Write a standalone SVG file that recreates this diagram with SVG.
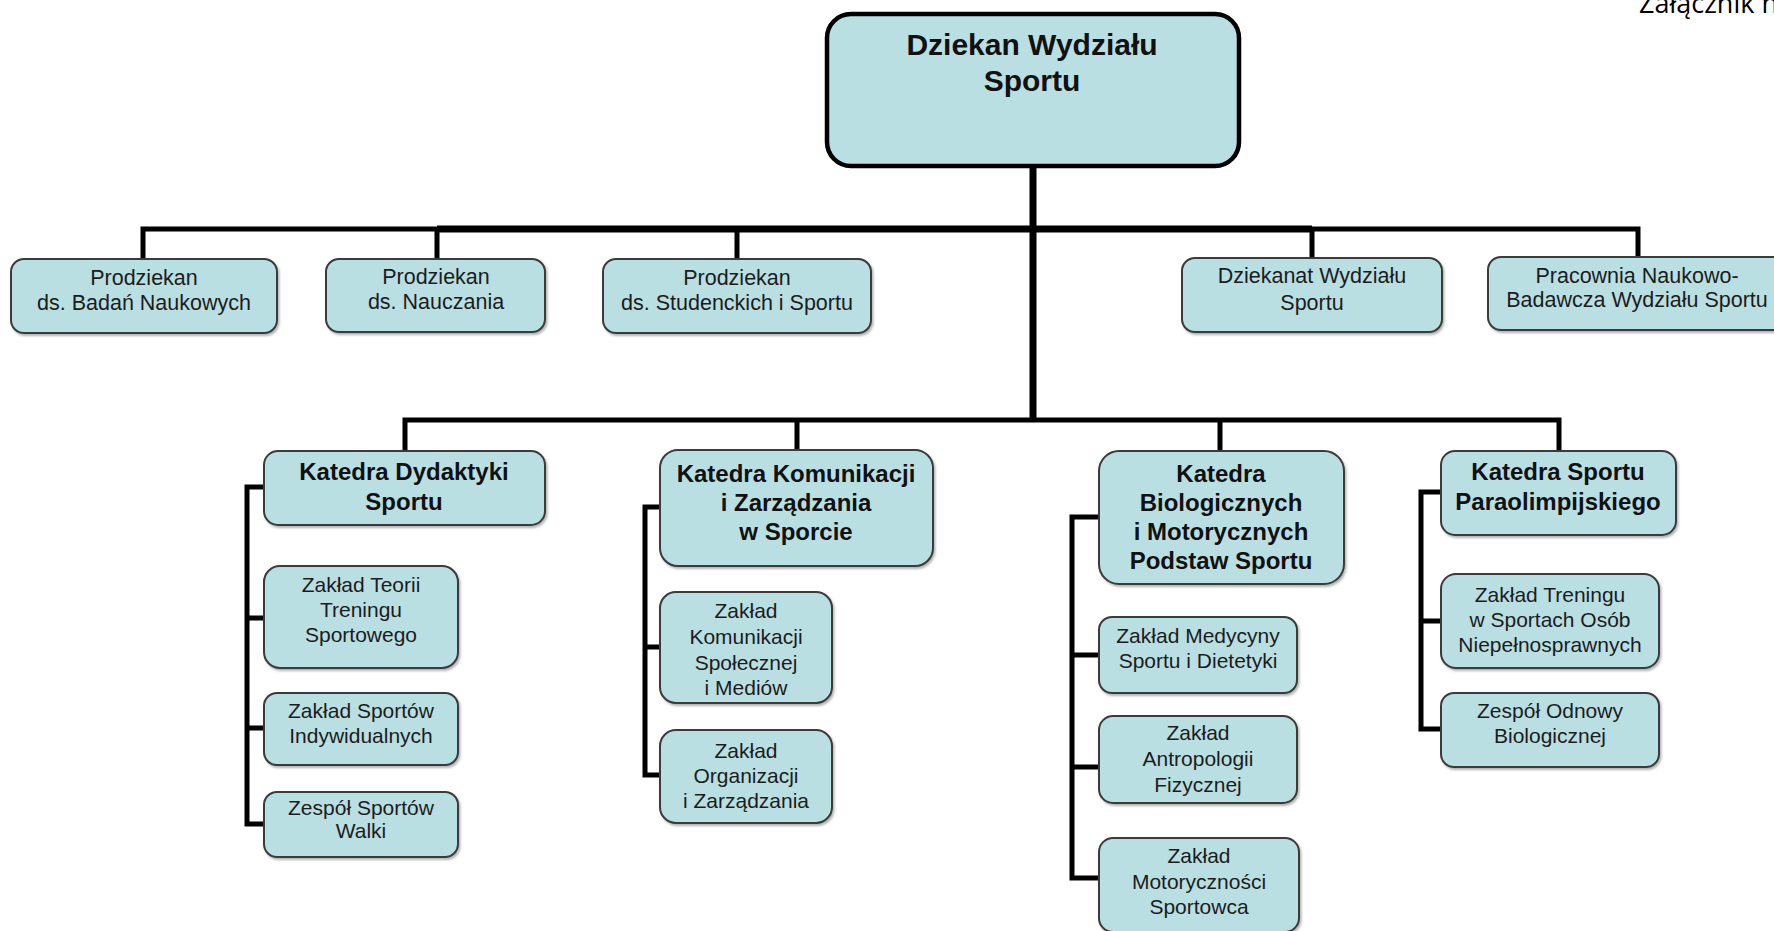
<svg xmlns="http://www.w3.org/2000/svg" width="1774" height="931" viewBox="0 0 1774 931">
<defs>
<filter id="sh" x="-5%" y="-5%" width="110%" height="120%"><feDropShadow dx="1.5" dy="2" stdDeviation="0.8" flood-color="#666" flood-opacity="0.5"/></filter>
</defs>
<style>
.box{fill:#b9dfe3;stroke:#3a3a3a;stroke-width:2;filter:url(#sh)}
.top{fill:#b9dfe3;stroke:#000;stroke-width:4.5}
.t{font-family:"Liberation Sans",Arial,sans-serif;font-size:21px;fill:#1c1c1c;text-anchor:middle}
.t1{font-family:"Liberation Sans",Arial,sans-serif;font-size:21.5px;fill:#1c1c1c;text-anchor:middle}
.b{font-family:"Liberation Sans",Arial,sans-serif;font-size:24px;font-weight:bold;fill:#111;text-anchor:middle}
.bt{font-family:"Liberation Sans",Arial,sans-serif;font-size:30px;font-weight:bold;fill:#111;text-anchor:middle}
.ln{fill:none;stroke:#000;stroke-width:5;stroke-linecap:butt;stroke-linejoin:miter}
.lnk{fill:none;stroke:#000;stroke-width:7}
</style>
<rect width="1774" height="931" fill="#fff"/>
<text x="1639" y="13" style="font-family:'Open Sans',sans-serif;font-size:27px;fill:#000">Załącznik n</text>

<g id="connectors">
<path class="lnk" d="M1033 167V420"/>
<path class="lnk" d="M437 229H1312"/>
<path class="ln" d="M143 259V229H437M1312 229H1638V257"/>
<path class="ln" d="M437 229V259M737 229V259M1312 229V258"/>
<path class="ln" d="M405 451V420H1559V451M797 420V450M1220 420V451"/>
<path class="ln" d="M264 487H247V824H264M247 618H264M247 728H264"/>
<path class="ln" d="M660 507H645V775H660M645 647H660"/>
<path class="ln" d="M1099 517H1072V878H1099M1072 655H1099M1072 767H1099"/>
<path class="ln" d="M1441 492H1421V729H1441M1421 621H1441"/>
</g>

<g id="dziekan">
<rect class="top" x="827" y="14" width="412" height="152" rx="24"/>
<text class="bt" x="1032" y="55">Dziekan Wydziału</text>
<text class="bt" x="1032" y="91">Sportu</text>
</g>

<g id="prodziekan-badan">
<rect class="box" x="11" y="259" width="266" height="74" rx="13"/>
<text class="t1" x="144" y="285">Prodziekan</text>
<text class="t1" x="144" y="310">ds. Badań Naukowych</text>
</g>
<g id="prodziekan-nauczania">
<rect class="box" x="326" y="259" width="219" height="73" rx="13"/>
<text class="t1" x="436" y="284">Prodziekan</text>
<text class="t1" x="436" y="309">ds. Nauczania</text>
</g>
<g id="prodziekan-studenckich">
<rect class="box" x="603" y="259" width="268" height="74" rx="13"/>
<text class="t1" x="737" y="285">Prodziekan</text>
<text class="t1" x="737" y="310">ds. Studenckich i Sportu</text>
</g>
<g id="dziekanat">
<rect class="box" x="1182" y="258" width="260" height="74" rx="13"/>
<text class="t1" x="1312" y="283">Dziekanat Wydziału</text>
<text class="t1" x="1312" y="310">Sportu</text>
</g>
<g id="pracownia">
<rect class="box" x="1488" y="257" width="300" height="73" rx="13"/>
<text class="t1" x="1637" y="283">Pracownia Naukowo-</text>
<text class="t1" x="1637" y="307">Badawcza Wydziału Sportu</text>
</g>

<g id="katedra-dydaktyki">
<rect class="box" x="264" y="451" width="281" height="74" rx="14"/>
<text class="b" x="404" y="480">Katedra Dydaktyki</text>
<text class="b" x="404" y="510">Sportu</text>
</g>
<g id="zaklad-teorii">
<rect class="box" x="264" y="566" width="194" height="102" rx="16"/>
<text class="t" x="361" y="592">Zakład Teorii</text>
<text class="t" x="361" y="617">Treningu</text>
<text class="t" x="361" y="642">Sportowego</text>
</g>
<g id="zaklad-indywidualnych">
<rect class="box" x="264" y="693" width="194" height="72" rx="13"/>
<text class="t" x="361" y="718">Zakład Sportów</text>
<text class="t" x="361" y="743">Indywidualnych</text>
</g>
<g id="zespol-walki">
<rect class="box" x="264" y="792" width="194" height="65" rx="13"/>
<text class="t" x="361" y="815">Zespół Sportów</text>
<text class="t" x="361" y="838">Walki</text>
</g>

<g id="katedra-komunikacji">
<rect class="box" x="660" y="450" width="273" height="116" rx="18"/>
<text class="b" x="796" y="482">Katedra Komunikacji</text>
<text class="b" x="796" y="511">i Zarządzania</text>
<text class="b" x="796" y="540">w Sporcie</text>
</g>
<g id="zaklad-komunikacji">
<rect class="box" x="660" y="592" width="172" height="111" rx="16"/>
<text class="t" x="746" y="618">Zakład</text>
<text class="t" x="746" y="644">Komunikacji</text>
<text class="t" x="746" y="670">Społecznej</text>
<text class="t" x="746" y="695">i Mediów</text>
</g>
<g id="zaklad-organizacji">
<rect class="box" x="660" y="730" width="172" height="93" rx="16"/>
<text class="t" x="746" y="758">Zakład</text>
<text class="t" x="746" y="783">Organizacji</text>
<text class="t" x="746" y="808">i Zarządzania</text>
</g>

<g id="katedra-biologicznych">
<rect class="box" x="1099" y="451" width="245" height="133" rx="20"/>
<text class="b" x="1221" y="482">Katedra</text>
<text class="b" x="1221" y="511">Biologicznych</text>
<text class="b" x="1221" y="540">i Motorycznych</text>
<text class="b" x="1221" y="569">Podstaw Sportu</text>
</g>
<g id="zaklad-medycyny">
<rect class="box" x="1099" y="617" width="198" height="76" rx="13"/>
<text class="t" x="1198" y="643">Zakład Medycyny</text>
<text class="t" x="1198" y="668">Sportu i Dietetyki</text>
</g>
<g id="zaklad-antropologii">
<rect class="box" x="1099" y="716" width="198" height="87" rx="14"/>
<text class="t" x="1198" y="740">Zakład</text>
<text class="t" x="1198" y="766">Antropologii</text>
<text class="t" x="1198" y="792">Fizycznej</text>
</g>
<g id="zaklad-motorycznosci">
<rect class="box" x="1099" y="838" width="200" height="94" rx="14"/>
<text class="t" x="1199" y="863">Zakład</text>
<text class="t" x="1199" y="889">Motoryczności</text>
<text class="t" x="1199" y="914">Sportowca</text>
</g>

<g id="katedra-paraolimpijskiego">
<rect class="box" x="1441" y="451" width="235" height="84" rx="14"/>
<text class="b" x="1558" y="480">Katedra Sportu</text>
<text class="b" x="1558" y="510">Paraolimpijskiego</text>
</g>
<g id="zaklad-treningu">
<rect class="box" x="1441" y="574" width="218" height="94" rx="15"/>
<text class="t" x="1550" y="602">Zakład Treningu</text>
<text class="t" x="1550" y="627">w Sportach Osób</text>
<text class="t" x="1550" y="652">Niepełnosprawnych</text>
</g>
<g id="zespol-odnowy">
<rect class="box" x="1441" y="693" width="218" height="74" rx="13"/>
<text class="t" x="1550" y="718">Zespół Odnowy</text>
<text class="t" x="1550" y="743">Biologicznej</text>
</g>
</svg>
